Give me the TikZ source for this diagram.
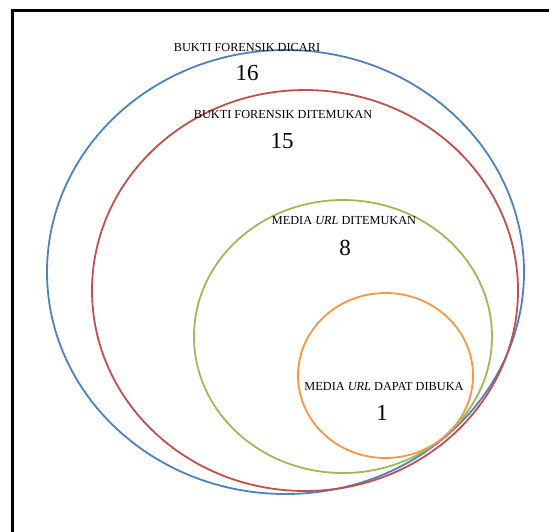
\documentclass[tikz,border=0pt]{standalone}
\usepackage{fontspec}
\setmainfont{Liberation Serif}
\usetikzlibrary{shapes.geometric}
\definecolor{cBlue}  {HTML}{4F81BD}
\definecolor{cRed}   {HTML}{C0504D}
\definecolor{cGreen} {HTML}{9BBB59}
\definecolor{cOrange}{HTML}{F79646}
\tikzset{
  ring/.style={ellipse,draw=#1,line width=1.8pt,inner sep=0pt},
  slbl/.style={inner sep=0pt,font=\fontsize{12.3}{14}\selectfont},
  snum/.style={inner sep=0pt,font=\fontsize{23}{25}\selectfont},
  frm/.style={line width=3pt,black},
}
\begin{document}
\begin{tikzpicture}[x=1pt,y=-1pt]
    \useasboundingbox (0,0) rectangle (549,531);
    \coordinate (fbl) at (12,540);
    \coordinate (ftl) at (12,10);
    \coordinate (ftr) at (560,10);
    \draw[frm] (fbl) -- (ftl) -- (ftr);
    % sets
    \node[ring=cBlue,  minimum width=477pt,minimum height=444pt] (dicari)   at (285.5,272) {};
    \node[ring=cRed,   minimum width=426pt,minimum height=401pt] (ditemu)   at (305,290.5) {};
    \node[ring=cGreen, minimum width=298pt,minimum height=273pt] (urltemu)  at (343,336.5) {};
    \node[ring=cOrange,minimum width=175pt,minimum height=165pt] (urlbuka)  at (385.5,375.5) {};
    % labels
    \node[slbl] (ldicari)  at (247,47)  {BUKTI FORENSIK DICARI};
    \node[snum] (n16)      at (247,73)  {16};
    \node[slbl] (lditemu)  at (283,114) {BUKTI FORENSIK DITEMUKAN};
    \node[snum] (n15)      at (282,141) {15};
    \node[slbl] (lurltemu) at (344,220) {MEDIA \textit{URL} DITEMUKAN};
    \node[snum] (n8)       at (345,248) {8};
    \node[slbl] (lurlbuka) at (384,386) {MEDIA \textit{URL} DAPAT DIBUKA};
    \node[snum] (n1)       at (382,413) {1};
  \end{tikzpicture}
\end{document}
